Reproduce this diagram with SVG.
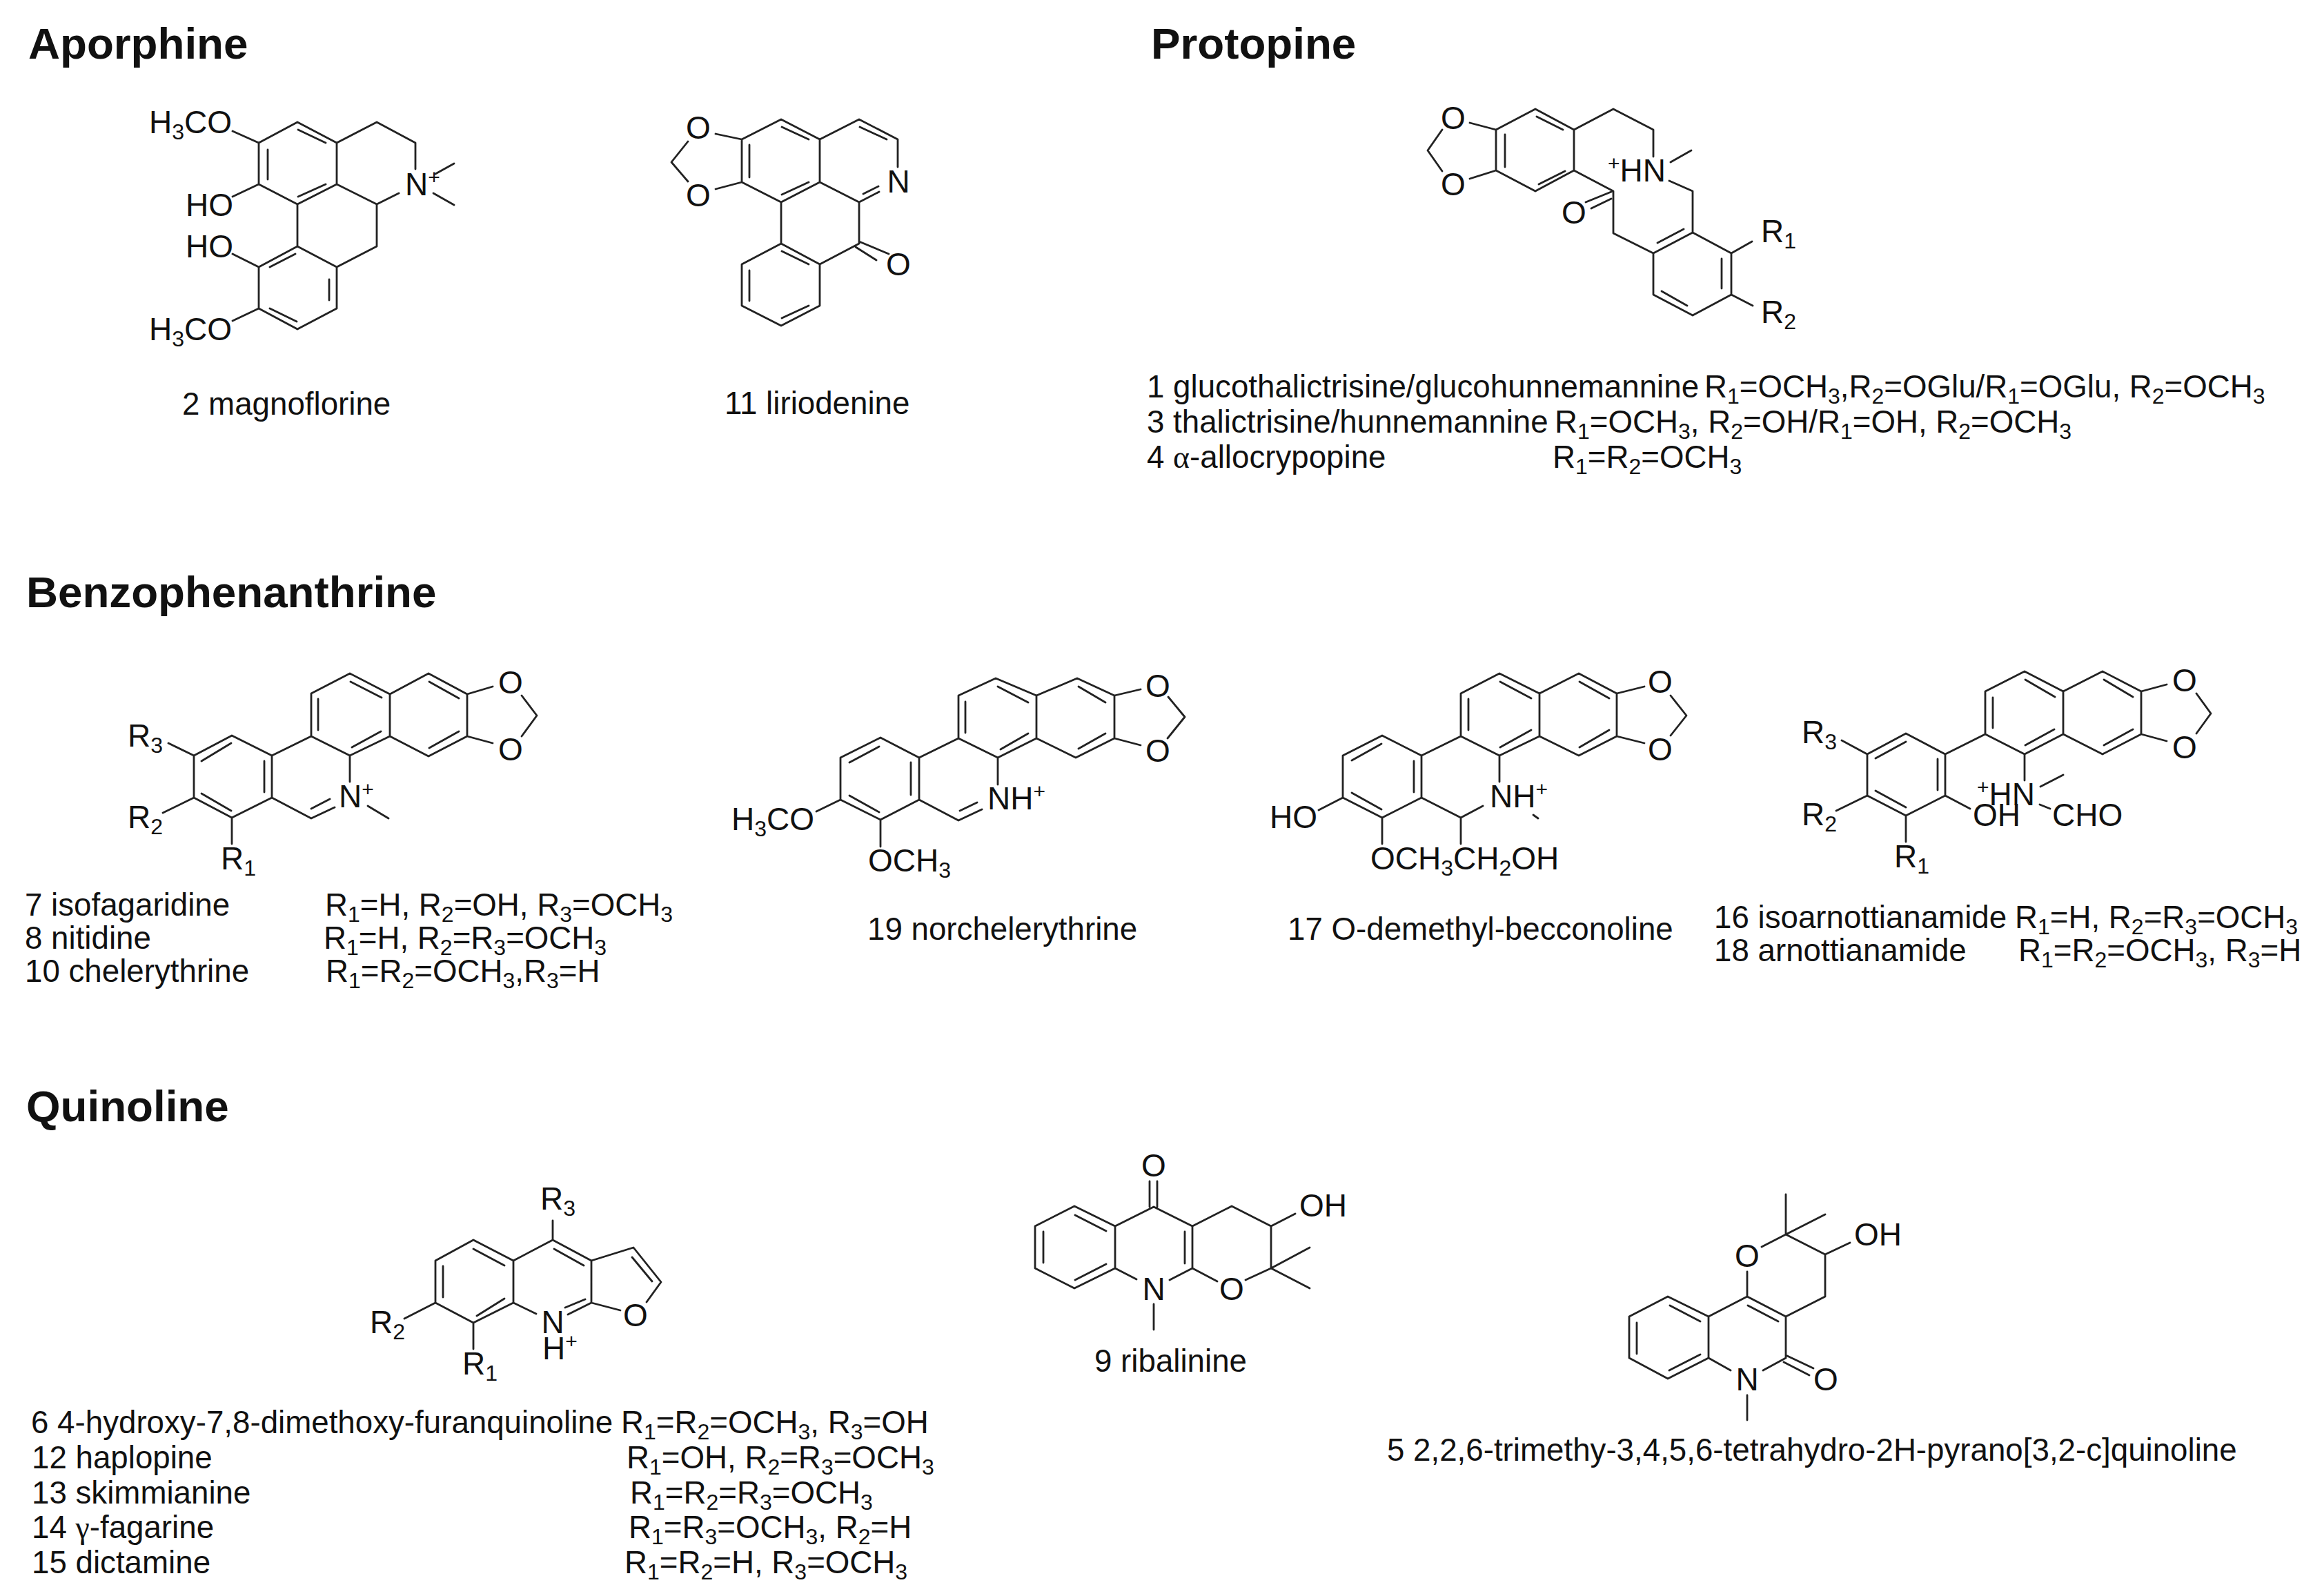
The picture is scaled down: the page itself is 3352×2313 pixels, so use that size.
<svg xmlns="http://www.w3.org/2000/svg" width="3352" height="2313" viewBox="0 0 3352 2313">
<style>
text{font-family:"Liberation Sans",Arial,sans-serif;font-size:45.7px;fill:#111}
.h{font-weight:bold;font-size:63.7px;fill:#111}
.a{font-size:46px}
.m{font-size:46px;text-anchor:middle}
.s{font-size:32px;baseline-shift:-9px}
.u{font-size:30px;baseline-shift:16px}
.g{font-family:"Liberation Serif",serif}
.b{fill:none;stroke:#222;stroke-width:2.8;stroke-linecap:round;stroke-linejoin:round}
</style>
<rect width="3352" height="2313" fill="#fff"/>

<g id="headings">
<text class="h" x="41" y="85">Aporphine</text>
<text class="h" x="1668" y="85">Protopine</text>
<text class="h" x="38" y="880">Benzophenanthrine</text>
<text class="h" x="38" y="1625">Quinoline</text>
</g>

<g id="magnoflorine">
<path class="b" d="M375 207L431 177L488 207L488 267L431 296L375 267ZM488 207L546 177L602 207L602 245M488 267L546 296L578 280M546 296L546 357L488 387M431 296L431 357L488 387L488 447L431 477L375 447L375 387L431 357M388 217V260M432 188L472 207M472 267L432 285M428 368L391 387M477 405V435M391 447L430 466M631 252L658 237M628 280L658 297M375 207L337 190M375 267L337 285M375 387L337 368M375 447L337 465"/>
<text class="a" x="216" y="193">H<tspan class="s">3</tspan>CO</text>
<text class="a" x="269" y="313">HO</text>
<text class="a" x="269" y="373">HO</text>
<text class="a" x="216" y="493">H<tspan class="s">3</tspan>CO</text>
<text class="a" x="587" y="283">N<tspan class="u">+</tspan></text>
<text x="264" y="601">2 magnoflorine</text>
</g>

<g id="liriodenine">
<path class="b" d="M1075 202L1132 173L1188 202L1188 264L1132 293L1075 264ZM1188 202L1245 173L1301 202L1301 242M1188 264L1245 293L1274 278M1132 293V353M1245 293V353M1132 353L1188 383L1245 353M1132 353L1075 383L1075 443L1132 472L1188 443L1188 383M1086 210V257M1133 184L1172 202M1172 264L1133 282M1246 184L1285 202M1251 281L1273 270M1133 364L1172 383M1086 392V436M1133 461L1172 443M1245 350L1288 368M1240 358L1270 377M997 205L973 235L997 263M1037 194L1075 202M1037 274L1075 264"/>
<text class="m" x="1012" y="201">O</text>
<text class="m" x="1012" y="299">O</text>
<text class="m" x="1302" y="279">N</text>
<text class="m" x="1302" y="399">O</text>
<text x="1050" y="600">11 liriodenine</text>
</g>

<g id="protopine">
<path class="b" d="M2168 188L2225 158L2281 188L2281 247L2225 277L2168 247ZM2281 188L2338 158L2396 188L2396 227M2281 247L2338 277L2338 338L2396 367M2421 235L2451 218M2419 262L2453 277L2453 337L2509 367L2509 427L2453 457L2396 427L2396 367L2453 337M2181 195V242M2227 169L2265 188M2268 248L2230 267M2440 332L2402 352M2495 375V418M2408 422L2445 443M2335 278L2298 293M2335 288L2306 302M2509 367L2539 350M2509 427L2540 443M2090 188L2069 218L2090 248M2130 178L2168 188M2130 259L2168 247"/>
<text class="m" x="2106" y="187">O</text>
<text class="m" x="2106" y="283">O</text>
<text class="m" x="2281" y="324">O</text>
<text class="a" x="2330" y="263"><tspan class="u">+</tspan>HN</text>
<text class="a" x="2552" y="351">R<tspan class="s">1</tspan></text>
<text class="a" x="2552" y="468">R<tspan class="s">2</tspan></text>
<text x="1662" y="576">1 glucothalictrisine/glucohunnemannine</text>
<text x="2470" y="576">R<tspan class="s">1</tspan>=OCH<tspan class="s">3</tspan>,R<tspan class="s">2</tspan>=OGlu/R<tspan class="s">1</tspan>=OGlu, R<tspan class="s">2</tspan>=OCH<tspan class="s">3</tspan></text>
<text x="1662" y="627">3 thalictrisine/hunnemannine</text>
<text x="2253" y="627">R<tspan class="s">1</tspan>=OCH<tspan class="s">3</tspan>, R<tspan class="s">2</tspan>=OH/R<tspan class="s">1</tspan>=OH, R<tspan class="s">2</tspan>=OCH<tspan class="s">3</tspan></text>
<text x="1662" y="678">4 <tspan class="g">α</tspan>-allocrypopine</text>
<text x="2250" y="678">R<tspan class="s">1</tspan>=R<tspan class="s">2</tspan>=OCH<tspan class="s">3</tspan></text>
</g>

<g id="benzophenanthrine-7-8-10">
<path class="b" d="M451 1005L507 976L565 1006L565 1067L507 1095L451 1067ZM565 1006L621 976L677 1006L677 1067L621 1096L565 1067M714 995L677 1006M714 1077L677 1067M756 1008L778 1037L756 1067M451 1067L394 1095L336 1066L281 1095L281 1156L336 1185L394 1156L394 1095M507 1095V1133M394 1156L451 1186L485 1170M451 1172L478 1158M533 1168L563 1186M281 1095L244 1077M281 1156L236 1178M336 1185V1223M461 1013V1058M508 988L553 1011M552 1060L510 1083M622 988L665 1012M665 1060L622 1084M335 1077L292 1103M383 1103V1148M292 1150L335 1175"/>
<text class="m" x="740" y="1005">O</text>
<text class="m" x="740" y="1102">O</text>
<text class="a" x="491" y="1170">N<tspan class="u">+</tspan></text>
<text class="a" x="185" y="1082">R<tspan class="s">3</tspan></text>
<text class="a" x="185" y="1200">R<tspan class="s">2</tspan></text>
<text class="a" x="320" y="1260">R<tspan class="s">1</tspan></text>
<text x="36" y="1327">7 isofagaridine</text>
<text x="471" y="1327">R<tspan class="s">1</tspan>=H, R<tspan class="s">2</tspan>=OH, R<tspan class="s">3</tspan>=OCH<tspan class="s">3</tspan></text>
<text x="36" y="1375">8 nitidine</text>
<text x="469" y="1375">R<tspan class="s">1</tspan>=H, R<tspan class="s">2</tspan>=R<tspan class="s">3</tspan>=OCH<tspan class="s">3</tspan></text>
<text x="36" y="1423">10 chelerythrine</text>
<text x="472" y="1423">R<tspan class="s">1</tspan>=R<tspan class="s">2</tspan>=OCH<tspan class="s">3</tspan>,R<tspan class="s">3</tspan>=H</text>
</g>

<g id="norchelerythrine">
<path class="b" d="M1218 1098L1276 1069L1332 1098L1332 1159L1276 1188L1218 1159ZM1332 1098L1389 1070L1389 1008L1443 983L1502 1008L1502 1070L1446 1098L1389 1070M1502 1008L1561 983L1615 1008L1615 1070L1559 1098L1502 1070M1446 1098V1137M1332 1159L1389 1189L1423 1173M1391 1175L1416 1163M1218 1159L1183 1176M1276 1188V1227M1615 1070L1653 1080M1615 1008L1653 999M1692 1070L1717 1039L1693 1010M1231 1105L1274 1082M1320 1105V1152M1231 1153L1274 1177M1399 1017V1062M1490 1063L1450 1086M1602 1063L1563 1085M1446 995L1490 1018M1563 995L1602 1018"/>
<text class="m" x="1678" y="1010">O</text>
<text class="m" x="1678" y="1104">O</text>
<text class="a" x="1431" y="1173">NH<tspan class="u">+</tspan></text>
<text class="a" x="1060" y="1203">H<tspan class="s">3</tspan>CO</text>
<text class="a" x="1258" y="1263">OCH<tspan class="s">3</tspan></text>
<text x="1257" y="1362">19 norchelerythrine</text>
</g>

<g id="O-demethyl-becconoline">
<path class="b" d="M2117 1005L2173 976L2231 1005L2231 1067L2173 1095L2117 1067ZM2231 1005L2288 976L2343 1005L2343 1067L2288 1095L2231 1067M2383 995L2343 1005M2383 1077L2343 1067M2421 1008L2444 1037L2421 1066M2117 1067L2060 1095L2003 1066L1946 1095L1946 1156L2003 1185L2060 1156L2060 1095M2060 1156L2117 1185L2149 1168M2117 1185V1223M2173 1095V1133M2222 1181L2229 1186M1946 1156L1911 1174M2003 1185V1223M2128 1013V1058M2174 988L2219 1012M2219 1058L2174 1083M2289 988L2332 1012M2332 1058L2289 1083M2002 1078L1959 1102M2049 1103V1148M1959 1149L2002 1173"/>
<text class="m" x="2406" y="1004">O</text>
<text class="m" x="2406" y="1102">O</text>
<text class="a" x="2159" y="1170">NH<tspan class="u">+</tspan></text>
<text class="a" x="1840" y="1200">HO</text>
<text class="a" x="1986" y="1260">OCH<tspan class="s">3</tspan>CH<tspan class="s">2</tspan>OH</text>
<text x="1866" y="1362">17 O-demethyl-becconoline</text>
</g>

<g id="arnottianamide">
<path class="b" d="M2877 1002L2934 973L2990 1002L2990 1064L2934 1093L2877 1064ZM2990 1002L3047 973L3103 1002L3103 1064L3047 1093L2990 1064M3140 992L3103 1002M3140 1074L3103 1064M3183 1005L3204 1034L3183 1063M2877 1064L2819 1093L2762 1063L2706 1093L2706 1153L2762 1182L2819 1153L2819 1093M2934 1093V1131M2957 1140L2990 1123M2956 1166L2971 1172M2819 1153L2855 1172M2706 1093L2669 1073M2706 1153L2661 1175M2762 1182V1220M2888 1011V1055M2935 985L2978 1010M2977 1057L2935 1080M3049 985L3091 1010M3091 1057L3049 1080M2762 1075L2718 1099M2808 1100V1145M2718 1146L2762 1170"/>
<text class="m" x="3166" y="1002">O</text>
<text class="m" x="3166" y="1099">O</text>
<text class="a" x="2865" y="1167"><tspan class="u">+</tspan>HN</text>
<text class="a" x="2859" y="1197">OH</text>
<text class="a" x="2974" y="1197">CHO</text>
<text class="a" x="2611" y="1077">R<tspan class="s">3</tspan></text>
<text class="a" x="2611" y="1196">R<tspan class="s">2</tspan></text>
<text class="a" x="2745" y="1257">R<tspan class="s">1</tspan></text>
<text x="2484" y="1345">16 isoarnottianamide</text>
<text x="2920" y="1345">R<tspan class="s">1</tspan>=H, R<tspan class="s">2</tspan>=R<tspan class="s">3</tspan>=OCH<tspan class="s">3</tspan></text>
<text x="2484" y="1393">18 arnottianamide</text>
<text x="2925" y="1393">R<tspan class="s">1</tspan>=R<tspan class="s">2</tspan>=OCH<tspan class="s">3</tspan>, R<tspan class="s">3</tspan>=H</text>
</g>

<g id="furanquinoline">
<path class="b" d="M631 1827L686 1797L744 1827L744 1888L686 1917L631 1888ZM744 1827L801 1797L857 1827L857 1888M744 1888L777 1904M857 1888L823 1905M848 1883L819 1895M857 1827L918 1808L958 1858L937 1887M857 1888L899 1899M916 1822L945 1857M801 1797V1769M631 1888L586 1911M686 1917V1955M642 1835V1880M686 1810L731 1834M731 1882L691 1907M803 1810L846 1834"/>
<text class="m" x="801" y="1932">N</text>
<text class="a" x="786" y="1970">H<tspan class="u">+</tspan></text>
<text class="m" x="921" y="1922">O</text>
<text class="a" x="783" y="1753">R<tspan class="s">3</tspan></text>
<text class="a" x="536" y="1932">R<tspan class="s">2</tspan></text>
<text class="a" x="670" y="1992">R<tspan class="s">1</tspan></text>
<text x="45" y="2077">6 4-hydroxy-7,8-dimethoxy-furanquinoline</text>
<text x="900" y="2077">R<tspan class="s">1</tspan>=R<tspan class="s">2</tspan>=OCH<tspan class="s">3</tspan>, R<tspan class="s">3</tspan>=OH</text>
<text x="46" y="2128">12 haplopine</text>
<text x="908" y="2128">R<tspan class="s">1</tspan>=OH, R<tspan class="s">2</tspan>=R<tspan class="s">3</tspan>=OCH<tspan class="s">3</tspan></text>
<text x="46" y="2179">13 skimmianine</text>
<text x="913" y="2179">R<tspan class="s">1</tspan>=R<tspan class="s">2</tspan>=R<tspan class="s">3</tspan>=OCH<tspan class="s">3</tspan></text>
<text x="46" y="2229">14 <tspan class="g">γ</tspan>-fagarine</text>
<text x="911" y="2229">R<tspan class="s">1</tspan>=R<tspan class="s">3</tspan>=OCH<tspan class="s">3</tspan>, R<tspan class="s">2</tspan>=H</text>
<text x="46" y="2280">15 dictamine</text>
<text x="905" y="2280">R<tspan class="s">1</tspan>=R<tspan class="s">2</tspan>=H, R<tspan class="s">3</tspan>=OCH<tspan class="s">3</tspan></text>
</g>

<g id="ribalinine">
<path class="b" d="M1500 1777L1557 1748L1616 1777L1616 1838L1557 1867L1500 1838ZM1616 1777L1672 1749L1728 1777L1728 1838M1616 1838L1647 1854M1728 1838L1695 1855M1672 1890V1927M1666 1712V1749M1677 1712V1749M1728 1777L1785 1748L1842 1777L1842 1838L1898 1808M1842 1838L1898 1867M1728 1838L1764 1857M1805 1855L1842 1838M1842 1777L1877 1759M1512 1785V1830M1558 1761L1603 1784M1603 1832L1558 1855M1717 1785V1831"/>
<text class="m" x="1672" y="1705">O</text>
<text class="m" x="1672" y="1884">N</text>
<text class="m" x="1785" y="1884">O</text>
<text class="a" x="1883" y="1763">OH</text>
<text x="1586" y="1988">9 ribalinine</text>
</g>

<g id="pyranoquinoline">
<path class="b" d="M2361 1908L2417 1879L2476 1908L2476 1968L2417 1998L2361 1968ZM2476 1908L2532 1879L2588 1908L2588 1968M2476 1968L2508 1986M2588 1968L2555 1986M2532 2022V2058M2590 1965L2628 1983M2585 1974L2622 1993M2532 1879V1843M2553 1807L2588 1789L2645 1818L2645 1879L2588 1908M2588 1789V1731M2588 1789L2645 1760M2645 1818L2681 1801M2372 1917V1962M2420 1892L2464 1915M2464 1963L2419 1986M2533 1892L2577 1915"/>
<text class="m" x="2532" y="1836">O</text>
<text class="m" x="2532" y="2015">N</text>
<text class="m" x="2646" y="2015">O</text>
<text class="a" x="2687" y="1805">OH</text>
<text x="2010" y="2117">5 2,2,6-trimethy-3,4,5,6-tetrahydro-2H-pyrano[3,2-c]quinoline</text>
</g>
</svg>
